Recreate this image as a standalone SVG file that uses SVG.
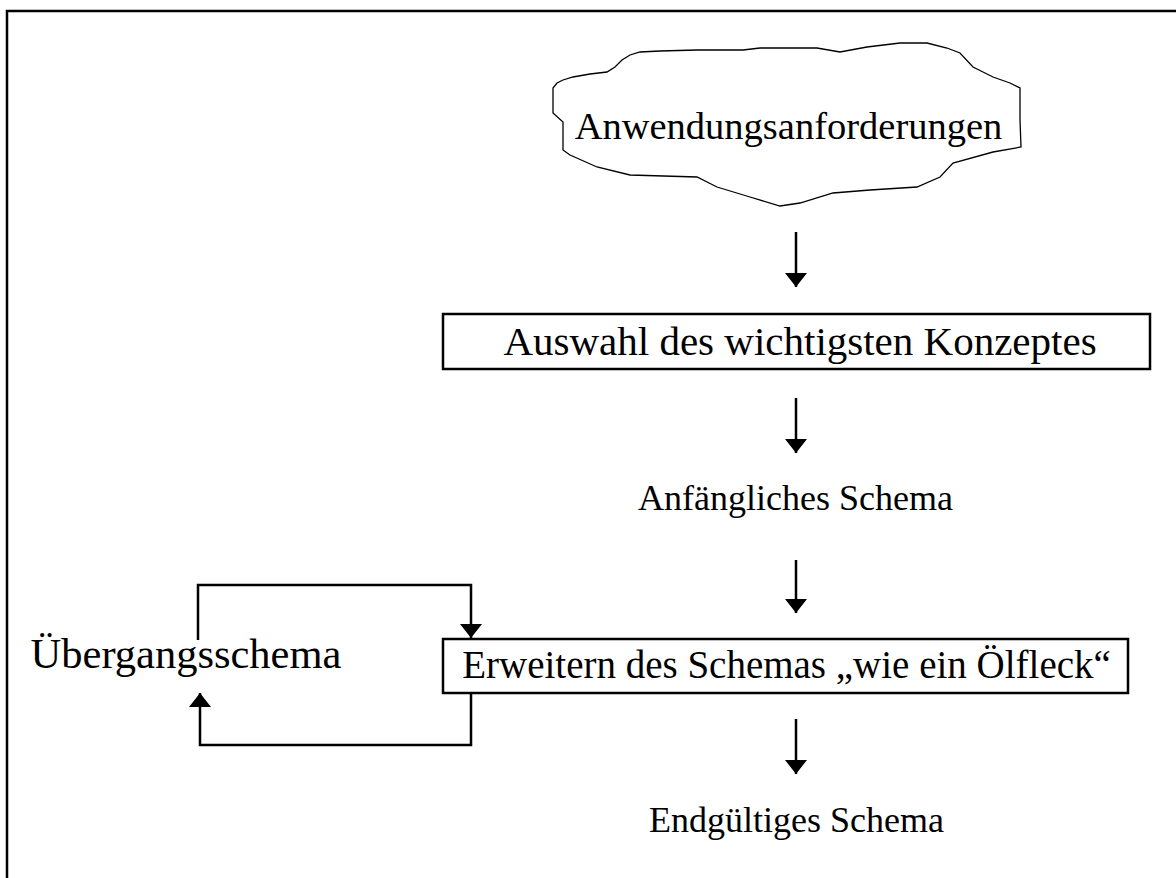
<svg xmlns="http://www.w3.org/2000/svg" width="1176" height="878" viewBox="0 0 1176 878">
  <style>
    .lbl { font-family: "Liberation Serif", "Times New Roman", serif; font-size: 40px; fill: #000; }
    .box { fill: #fff; stroke: #000; stroke-width: 2.5; }
    .ln { fill: none; stroke: #000; stroke-width: 2.5; }
  </style>
  <defs>
    <marker id="head" viewBox="0 0 14 22" refX="14" refY="11" markerWidth="14" markerHeight="22" markerUnits="userSpaceOnUse" orient="auto">
      <path d="M0,0 L14,11 L0,22 Z" fill="#000"/>
    </marker>
  </defs>
  <rect width="1176" height="878" fill="#fff"/>

  <!-- page frame (top and left edges) -->
  <path class="ln" d="M7,878 V11 H1176"/>

  <g id="anforderungen">
    <path fill="#fff" stroke="#000" stroke-width="1.3" d="M553,113 L553,88 L557,83 L563,80 L573,77 L590,74 L607,72 L615,67 L622,60 L630,55 L640,52 L660,51 L697,50 L743,50 L760,48 L817,48 L840,52 L867,47 L900,43 L927,43 L947,48 L960,53 L973,67 L993,77 L1010,83 L1020,88 L1020,120 L1021,147 L993,152 L953,163 L940,177 L917,187 L870,190 L833,193 L800,203 L780,206 L750,197 L717,187 L697,177 L630,175 L597,167 L570,155 L563,150 L563,122 Z"/>
    <text class="lbl" x="788.5" y="139" text-anchor="middle" style="font-size:38.5px">Anwendungsanforderungen</text>
  </g>

  <g id="auswahl">
    <rect class="box" x="443" y="314" width="707" height="55"/>
    <text class="lbl" x="800" y="355" text-anchor="middle" style="font-size:41px">Auswahl des wichtigsten Konzeptes</text>
  </g>

  <g id="anfaengliches">
    <text class="lbl" x="795.5" y="510" text-anchor="middle" style="font-size:36px">Anfängliches Schema</text>
  </g>

  <g id="erweitern">
    <rect class="box" x="443" y="639" width="685" height="54"/>
    <text class="lbl" x="786.5" y="678" text-anchor="middle" style="font-size:39px">Erweitern des Schemas „wie ein Ölfleck“</text>
  </g>

  <g id="uebergang">
    <text class="lbl" x="186" y="668" text-anchor="middle" style="font-size:42.5px">Übergangsschema</text>
  </g>

  <g id="endgueltig">
    <text class="lbl" x="796.5" y="832" text-anchor="middle" style="font-size:36px">Endgültiges Schema</text>
  </g>

  <g id="connectors">
    <path class="ln" d="M796,232 V287" marker-end="url(#head)"/>
    <path class="ln" d="M796,398 V453" marker-end="url(#head)"/>
    <path class="ln" d="M796,560 V613" marker-end="url(#head)"/>
    <path class="ln" d="M796,719 V774" marker-end="url(#head)"/>
    <path class="ln" d="M198,640 V585 H471 V638" marker-end="url(#head)"/>
    <path class="ln" d="M471,693 V745 H200 V693" marker-end="url(#head)"/>
  </g>
</svg>
